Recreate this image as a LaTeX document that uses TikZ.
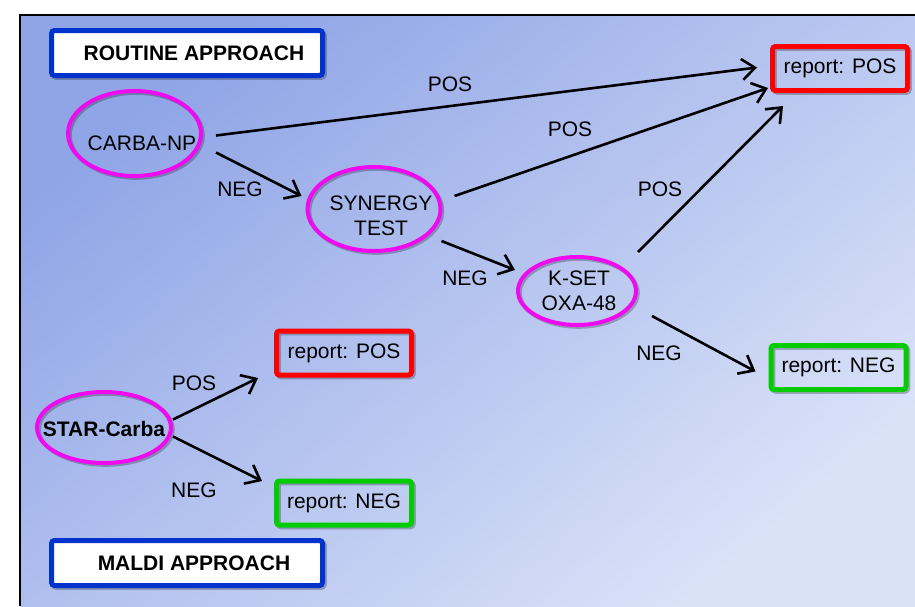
\documentclass[tikz,border=0pt]{standalone}
\usepackage{fontspec}
\setmainfont{Liberation Sans}
\usetikzlibrary{arrows.meta,shapes.geometric,calc}
\definecolor{bgA}{RGB}{144,165,230}
\definecolor{bgB}{RGB}{218,226,248}
\definecolor{mag}{RGB}{240,10,240}
\definecolor{bblue}{RGB}{0,51,204}
\definecolor{rred}{RGB}{255,0,0}
\definecolor{ggreen}{RGB}{0,204,0}
\tikzset{
  shad/.style={preaction={draw=black,draw opacity=0.25,transform canvas={xshift=1.8pt,yshift=-1.8pt}}},
  oval/.style={ellipse,draw=mag,line width=4pt,inner sep=0pt,shad},
  rbox/.style={rectangle,line width=5pt,rounded corners=3pt,minimum width=135pt,minimum height=44pt,inner sep=0pt,shad,font=\fontsize{21}{25}\selectfont},
  tbox/.style={rectangle,draw=bblue,fill=white,line width=5pt,rounded corners=3pt,minimum width=271pt,minimum height=45pt,inner sep=0pt,shad,font=\bfseries\fontsize{21}{25}\selectfont},
  arr/.style={line width=2.6pt,-{Straight Barb[length=13pt,width=21pt,line width=2.6pt]}},
  lbl/.style={font=\fontsize{21}{25}\selectfont,inner sep=0pt,align=center}
}
\begin{document}
\begin{tikzpicture}[x=1pt,y=-1pt]
\useasboundingbox (0,0) rectangle (915,606);
% background
\shade[left color=bgA,right color=bgB,shading angle=40] (20,15) rectangle (915,606);
\draw[line width=2.6pt] (915,15) -- (20,15) -- (20,606);
% title boxes
\node[tbox] (routine) at (187,53) {\hspace{14pt}ROUTINE APPROACH};
\node[tbox] (maldi) at (187,563) {\hspace{14pt}MALDI APPROACH};
% ellipses
\node[oval,minimum width=133pt,minimum height=85pt] (carba) at (134.5,133.5) {};
\node[oval,minimum width=133pt,minimum height=84pt] (synergy) at (374,209) {};
\node[oval,minimum width=118pt,minimum height=68pt] (kset) at (577,291) {};
\node[oval,minimum width=134pt,minimum height=71pt] (star) at (104,427.5) {};
\node[lbl] (carbaT) at (142,143) {CARBA-NP};
\node[lbl] (synergyT) at (381,216) {SYNERGY\\TEST};
\node[lbl] (ksetT) at (579,291) {K-SET\\OXA-48};
\node[lbl,font=\bfseries\fontsize{21}{25}\selectfont] (starT) at (104,429) {STAR-Carba};
% report boxes
\node[rbox,draw=rred] (posTop) at (840,68.5) {report: POS};
\node[rbox,draw=ggreen] (negR) at (838.5,367.5) {report: NEG};
\node[rbox,draw=rred] (posMid) at (344,353) {report: POS};
\node[rbox,draw=ggreen] (negLow) at (344,503) {report: NEG};
% arrows
\draw[arr] ([shift={(13,2)}]carba.east) -- ([shift={(-13,-1)}]posTop.west);
\draw[arr] ([shift={(13,19)}]carba.east) -- ([shift={(-4,-13)}]synergy.west);
\draw[arr] ([shift={(12,-13)}]synergy.east) -- ([shift={(-2,-5)}]posTop.south west);
\draw[arr] ([shift={(-1,32)}]synergy.east) -- ([shift={(-1,-21)}]kset.west);
\draw[arr] ([shift={(0,-39)}]kset.east) -- ([shift={(13,13)}]posTop.south west);
\draw[arr] ([shift={(14,25)}]kset.east) -- ([shift={(-13,4)}]negR.west);
\draw[arr] ([shift={(0,-8)}]star.east) -- ([shift={(-16,25)}]posMid.west);
\draw[arr] ([shift={(0,9)}]star.east) -- ([shift={(-12,-22)}]negLow.west);
% labels
\node[lbl] (l1) at (450,84) {POS};
\node[lbl] (l2) at (240,189) {NEG};
\node[lbl] (l3) at (570,129) {POS};
\node[lbl] (l4) at (465,278) {NEG};
\node[lbl] (l5) at (660,189) {POS};
\node[lbl] (l6) at (659,353) {NEG};
\node[lbl] (l7) at (194,383) {POS};
\node[lbl] (l8) at (194,490) {NEG};
\end{tikzpicture}
\end{document}
